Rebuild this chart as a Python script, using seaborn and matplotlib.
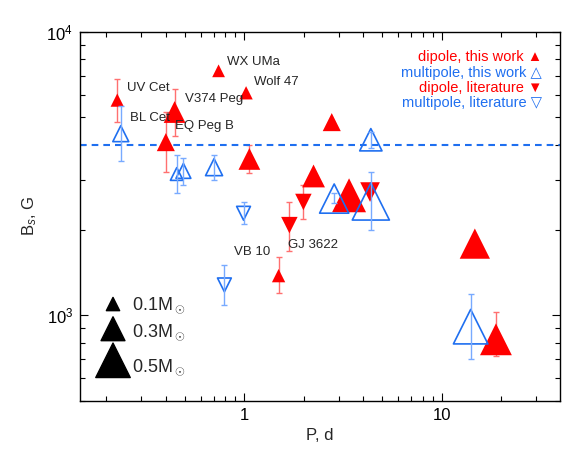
import numpy as np
import pandas as pd
import matplotlib
matplotlib.use("Agg")
import matplotlib.pyplot as plt
import matplotlib.ticker as mticker
import seaborn as sns

# dipole, this work (filled up-triangles)
dw_period = [0.227, 0.74, 1.02, 0.443, 0.40, 1.06, 2.77, 2.24, 3.39, 14.7, 18.8, 1.49]
dw_field = [5740, 7280, 6090, 5210, 4080, 3560, 4800, 3100, 2650, 1790, 823, 1380]
dw_mass = [0.10, 0.09, 0.10, 0.26, 0.19, 0.26, 0.19, 0.28, 0.49, 0.42, 0.45, 0.10]
dw_lo = [4800, np.nan, np.nan, 4300, 3200, 3170, np.nan, np.nan, np.nan, np.nan, 720, 1200]
dw_hi = [6800, np.nan, np.nan, 6300, 5200, 4000, np.nan, np.nan, np.nan, np.nan, 1025, 1600]

# dipole, literature (filled down-triangles)
dl_period = [1.69, 1.99, 4.33]
dl_field = [2080, 2510, 2720]
dl_mass = [0.16, 0.16, 0.22]
dl_lo = [1680, 2190, np.nan]
dl_hi = [2510, 2880, np.nan]

# multipole, this work (open up-triangles)
mw_period = [0.2365, 0.4545, 0.491, 0.702, 4.37, 2.85, 4.37, 14.0]
mw_field = [4370, 3150, 3230, 3330, 4160, 2580, 2520, 912]
mw_mass = [0.15, 0.09, 0.13, 0.17, 0.27, 0.40, 0.55, 0.50]
mw_lo = [3500, 2690, 2890, 3000, 3900, 2480, 2000, 700]
mw_hi = [5470, 3690, 3600, 3690, 4440, 2690, 3190, 1190]

# multipole, literature (open down-triangles)
ml_period = [0.99, 0.792]
ml_field = [2290, 1280]
ml_mass = [0.11, 0.11]
ml_lo = [2100, 1090]
ml_hi = [2500, 1500]

star_names = ["UV Cet", "WX UMa", "Wolf 47", "V374 Peg", "BL Cet", "EQ Peg B", "VB 10", "GJ 3622"]
name_pos = [(0.254, 6330), (0.814, 7840), (1.124, 6660), (0.50, 5785),
            (0.264, 4970), (0.446, 4650), (0.89, 1672), (1.66, 1776)]

legend_labels = ["dipole, this work \u25B2", "multipole, this work \u25B3",
                 "dipole, literature \u25BC", "multipole, literature \u25BD"]
legend_masses = [0.1, 0.3, 0.5]
b_line = 4000

RED = "#ff0000"
BLUE = "#1f6ff0"
RED_ERR = "#ff7070"
BLUE_ERR = "#78aaff"


def marker_area(mass):
    # triangle width in pixels grows roughly linearly with mass
    width_px = 8 + 53 * np.asarray(mass, dtype=float)
    return (width_px * 0.72) ** 2


def make_df(p, b, m, lo, hi):
    return pd.DataFrame({"P": p, "B": b, "mass": m, "lo": lo, "hi": hi})


dw = make_df(dw_period, dw_field, dw_mass, dw_lo, dw_hi)
dl = make_df(dl_period, dl_field, dl_mass, dl_lo, dl_hi)
mw = make_df(mw_period, mw_field, mw_mass, mw_lo, mw_hi)
ml = make_df(ml_period, ml_field, ml_mass, ml_lo, ml_hi)

sns.set_style("ticks")
plt.rcParams["font.family"] = ["Liberation Sans", "DejaVu Sans"]
plt.rcParams["mathtext.fontset"] = "custom"
plt.rcParams["mathtext.rm"] = "Liberation Sans"
plt.rcParams["mathtext.it"] = "Liberation Sans:italic"

fig = plt.figure(figsize=(5.81, 4.65), dpi=100)
ax = fig.add_axes([0.1377, 0.1383, 0.8262, 0.7935])
ax.set_xscale("log")
ax.set_yscale("log")


def err_bars(df, color, z):
    d = df.dropna(subset=["lo", "hi"])
    ax.errorbar(d["P"], d["B"], yerr=[d["B"] - d["lo"], d["hi"] - d["B"]],
                fmt="none", ecolor=color, elinewidth=1.0, capsize=2.2,
                capthick=1.0, zorder=z)


err_bars(dw, RED_ERR, 1)
err_bars(dl, RED_ERR, 1)

sns.scatterplot(data=dw, x="P", y="B", marker="^", s=marker_area(dw["mass"]),
                color=RED, edgecolor="none", linewidth=0, legend=False, ax=ax, zorder=2)
sns.scatterplot(data=dl, x="P", y="B", marker="v", s=marker_area(dl["mass"]),
                color=RED, edgecolor="none", linewidth=0, legend=False, ax=ax, zorder=2)
sns.scatterplot(data=mw, x="P", y="B", marker="^", s=marker_area(mw["mass"]),
                color=BLUE, facecolor="none", edgecolor=BLUE, linewidth=1.2,
                legend=False, ax=ax, zorder=3)
sns.scatterplot(data=ml, x="P", y="B", marker="v", s=marker_area(ml["mass"]),
                color=BLUE, facecolor="none", edgecolor=BLUE, linewidth=1.2,
                legend=False, ax=ax, zorder=3)

err_bars(mw, BLUE_ERR, 4)
err_bars(ml, BLUE_ERR, 4)

ax.axhline(b_line, color=BLUE, lw=1.5, ls=(0, (3.2, 2.4)), zorder=1.5)

for name, (px, py) in zip(star_names, name_pos):
    ax.text(px, py, name, fontsize=9.5, ha="left", va="center", zorder=5)

# legend text, top right
leg_colors = [RED, BLUE, RED, BLUE]
leg_y = [0.931, 0.887, 0.847, 0.806]
for lab, col, yy in zip(legend_labels, leg_colors, leg_y):
    ax.text(0.9625, yy, lab, color=col, fontsize=10.5, ha="right", va="center",
            transform=ax.transAxes, family=["Liberation Sans", "DejaVu Sans"])

# mass size legend, bottom left
size_y = [0.262, 0.195, 0.1095]
label_y = [0.259, 0.187, 0.092]
ax.scatter([0.06875] * 3, size_y, s=marker_area(legend_masses), marker="^",
           color="black", transform=ax.transAxes, zorder=5, clip_on=False)
for m, yy in zip(legend_masses, label_y):
    ax.text(0.1077, yy, f"{m:.1f}M$_\\odot$", fontsize=13, ha="left", va="center",
            transform=ax.transAxes)

ax.set_xlim(0.147, 39.7)
ax.set_ylim(500, 10000)
ax.xaxis.set_major_formatter(mticker.FuncFormatter(lambda v, pos: f"{v:g}"))
ax.xaxis.set_minor_formatter(mticker.NullFormatter())
ax.yaxis.set_minor_formatter(mticker.NullFormatter())

ax.tick_params(which="both", direction="in", top=True, right=True, width=0.8,
               labelsize=12, colors="black")
ax.tick_params(which="major", length=6, pad=5)
ax.tick_params(which="minor", length=3.5)
for sp in ax.spines.values():
    sp.set_linewidth(1.0)
    sp.set_color("black")

ax.set_xlabel("P, d", fontsize=12, labelpad=4)
ax.set_ylabel("B$_s$, G", fontsize=12, labelpad=5)

fig.savefig("out.png", dpi=100)
